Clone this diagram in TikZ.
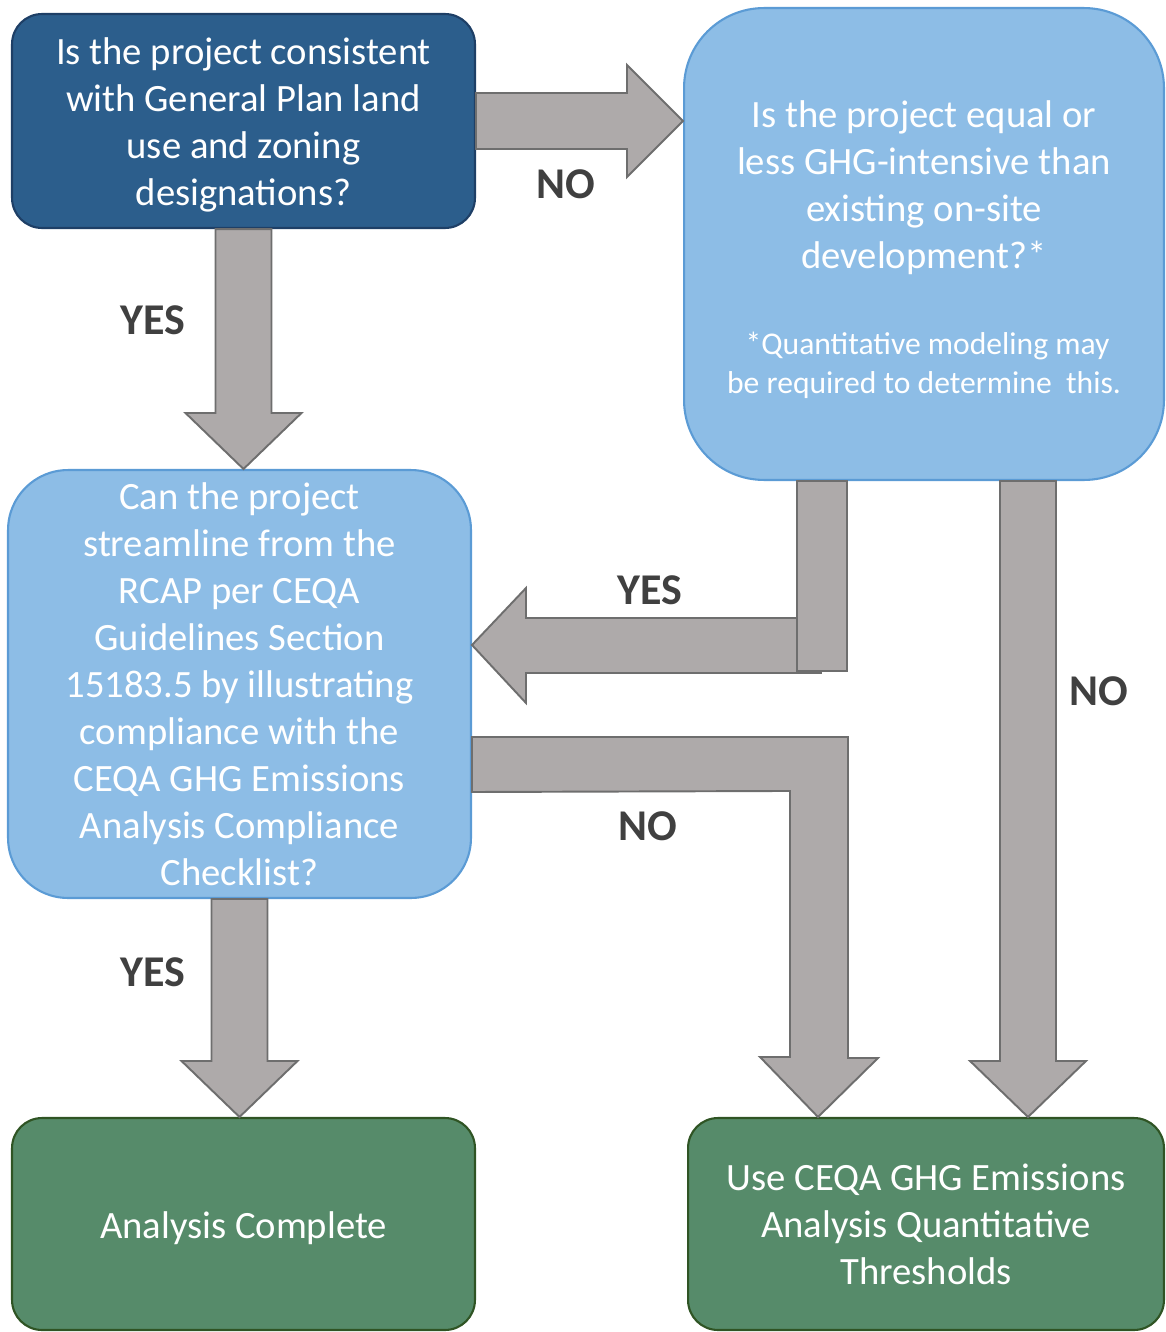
\documentclass[tikz,border=0pt]{standalone}
\usepackage{fontspec}
\setmainfont{Carlito}
\usetikzlibrary{calc}

\definecolor{darkq}{HTML}{2C5E8C}
\definecolor{darkqline}{HTML}{1E3F66}
\definecolor{lightq}{HTML}{8DBDE6}
\definecolor{lightqline}{HTML}{5B9BD5}
\definecolor{endbox}{HTML}{568B6A}
\definecolor{endline}{HTML}{2F5424}
\definecolor{blkfill}{HTML}{AEAAAA}
\definecolor{blkline}{HTML}{6E6E6E}
\definecolor{lbltext}{HTML}{404040}

\tikzset{
  box/.style = {inner sep=0pt, align=center, text=white,
    font=\fontsize{22}{26.74}\selectfont, line width=1.2pt},
  firstq/.style = {box, draw=darkqline, fill=darkq, rounded corners=0.6cm},
  otherq/.style = {box, draw=lightqline, fill=lightq},
  result/.style = {box, draw=endline, fill=endbox, rounded corners=0.6cm},
  blk/.style = {draw=blkline, fill=blkfill, line width=1.1pt},
  lbl/.style = {text=lbltext, font=\fontsize{25}{30}\selectfont\bfseries}
}

% straight block arrows, from #1 to the tip #2
\newcommand{\downblk}[2]{%
  \draw [blk] ($(#1)+(-28,0)$) -- ($(#2)+(-28,-56)$) -- ($(#2)+(-58,-56)$) -- (#2)
    -- ($(#2)+(58,-56)$) -- ($(#2)+(28,-56)$) -- ($(#1)+(28,0)$) -- cycle;}
\newcommand{\rightblk}[2]{%
  \draw [blk] ($(#1)+(0,-28)$) -- ($(#2)+(-56,-28)$) -- ($(#2)+(-56,-56)$) -- (#2)
    -- ($(#2)+(-56,56)$) -- ($(#2)+(-56,28)$) -- ($(#1)+(0,28)$) -- cycle;}

\begin{document}
\begin{tikzpicture}[x=0.02cm, y=-0.02cm]
  \useasboundingbox (0,0) rectangle (1166,1332);

  \node [firstq, minimum width=9.26cm, minimum height=4.28cm] (consistent) at (243.5,121)
    {\rule{0pt}{20pt}Is the project consistent\\with General Plan land\\use and zoning\\designations?};
  \node [otherq, rounded corners=1.6cm, minimum width=9.6cm, minimum height=9.44cm] (intensive) at (924,244)
    {\rule{0pt}{22pt}Is the project equal or\\less GHG-intensive than\\existing on-site\\development?*\\[22.2pt]
     {\fontsize{18}{22.2}\selectfont \ *Quantitative modeling may}\\[-4.5pt]
     {\fontsize{18}{22.2}\selectfont be required to determine\ \ this.}};
  \node [otherq, rounded corners=1.2cm, minimum width=9.26cm, minimum height=8.56cm] (streamline) at (239.5,684)
    {Can the project\\streamline from the\\RCAP per CEQA\\Guidelines Section\\15183.5 by illustrating\\compliance with the\\CEQA GHG Emissions\\Analysis Compliance\\Checklist?};
  \node [result, minimum width=9.26cm, minimum height=4.24cm] (complete) at (243.5,1224)
    {\rule{0pt}{20pt}Analysis Complete};
  \node [result, minimum width=9.52cm, minimum height=4.24cm] (thresholds) at (926,1224)
    {Use CEQA GHG Emissions\\Analysis Quantitative\\Thresholds};

  \coordinate (yesx) at (822,0);
  \coordinate (yesy) at (0,645);
  \coordinate (nox) at (818,0);
  \coordinate (nox2) at (1028,0);

  \rightblk{consistent.east}{intensive.west |- consistent.east}
  \downblk{consistent.south}{consistent.south |- streamline.north}
  \draw [blk] (streamline.east |- yesy) -- ++(54,-57) -- ++(0,30) -- ++(295,0) -- ++(0,55)
    -- ++(-295,0) -- ++(0,30) -- cycle;
  \draw [blk] ($(intensive.south -| yesx)+(-25,0)$) rectangle ($(intensive.south -| yesx)+(25,190)$);
  \draw [blk] ($(streamline.east)+(0,53)$) -- ++(376,0) -- ++(0,321) -- ++(30,0)
    -- (thresholds.north -| nox) -- ($(thresholds.north -| nox)+(-58,-60)$) -- ++(30,0) -- ++(0,-266)
    -- ($(streamline.east)+(0,108)$) -- cycle;
  \downblk{intensive.south -| nox2}{thresholds.north -| nox2}
  \downblk{streamline.south}{streamline.south |- complete.north}

  \node [lbl] (no1) at (566,184) {NO};
  \node [lbl] (yes1) at (153,320) {YES};
  \node [lbl] (yes2) at (650,590) {YES};
  \node [lbl] (no2) at (1099,691) {NO};
  \node [lbl] (no3) at (648,826) {NO};
  \node [lbl] (yes3) at (153,972) {YES};
\end{tikzpicture}
\end{document}
